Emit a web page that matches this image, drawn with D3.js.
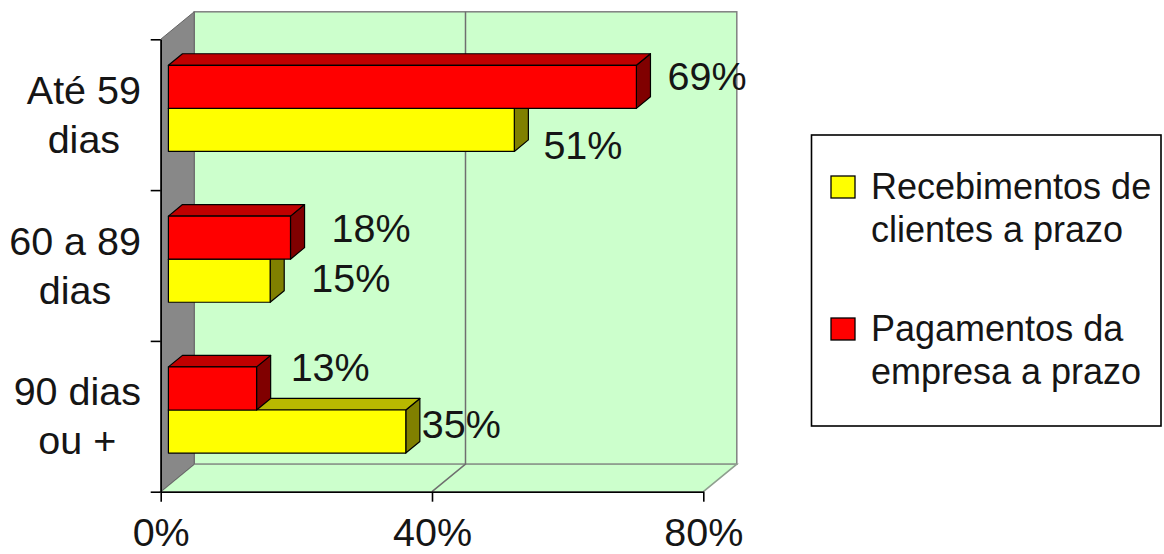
<!DOCTYPE html>
<html>
<head>
<meta charset="utf-8">
<script src="https://cdn.jsdelivr.net/npm/d3@7"></script>
<style>
  body { margin: 0; background: #fff; }
  svg { display: block; }
  text { font-family: "Liberation Sans", Arial, sans-serif; fill: #151515; }
</style>
</head>
<body>
<svg id="chart" width="1164" height="554"></svg>
<script>
// ---- data ----
const categories = ["Até 59 dias", "60 a 89 dias", "90 dias ou +"];
const categoryLines = [["Até 59", "dias"], ["60 a 89", "dias"], ["90 dias", "ou +"]];
const seriesKeys = ["pagamentos", "recebimentos"];          // top bar first within each group
const legendOrder = ["recebimentos", "pagamentos"];
const seriesLabels = {
  recebimentos: ["Recebimentos de", "clientes a prazo"],
  pagamentos: ["Pagamentos da", "empresa a prazo"]
};
const recebimentos = [51, 15, 35];   // % of firms
const pagamentos = [69, 18, 13];
const xTicks = [0, 40, 80];

// ---- styling / layout ----
const seriesValues = { recebimentos, pagamentos };
const colors = {
  recebimentos: { front: "#FFFF00", top: "#B8B800", side: "#808000" },
  pagamentos:   { front: "#FF0000", top: "#C00000", side: "#800000" }
};
// small hand adjustments of value-label placement [dx, dy]
const labelNudge = {
  recebimentos: [[-3, 25], [9, 8], [-16, 3]],
  pagamentos:   [[-1, 0], [9, 1], [2, -11]]
};

const FS = 39.5;
const svg = d3.select("#chart");

const x = d3.scaleLinear().domain([0, 80]).range([160.7, 703.3]);
const y = d3.scaleBand().domain(categories).range([39.3, 491.7]).padding(0);
const sub = d3.scaleBand().domain(seriesKeys).range([0, y.bandwidth()])
  .paddingInner(0).paddingOuter(0.75);
const yEdge = d3.scaleLinear().domain([0, categories.length]).range(y.range());

// 3D depth vector of the plot box and the slab occupied by the bars
const D = { x: 33.5, y: -27.5 };
const f0 = 0.23, f1 = 0.65;
const o0 = { x: D.x * f0, y: D.y * f0 };
const dd = { x: D.x * (f1 - f0), y: D.y * (f1 - f0) };

const [yTop, yBot] = y.range();
const [xL, xR] = x.range();

const pt = p => p.map(q => q.join(",")).join(" ");

// ---- walls and floor ----
const walls = svg.append("g");
// back wall
walls.append("rect")
  .attr("x", xL + D.x).attr("y", yTop + D.y)
  .attr("width", xR - xL).attr("height", yBot - yTop)
  .attr("fill", "#CCFFCC").attr("stroke", "#808080").attr("stroke-width", 1.5);
// floor
walls.append("polygon")
  .attr("points", pt([[xL, yBot], [xL + D.x, yBot + D.y], [xR + D.x, yBot + D.y], [xR, yBot]]))
  .attr("fill", "#CCFFCC").attr("stroke", "#8f9f8f").attr("stroke-width", 1.5);
// side wall
walls.append("polygon")
  .attr("points", pt([[xL, yTop], [xL + D.x, yTop + D.y], [xL + D.x, yBot + D.y], [xL, yBot]]))
  .attr("fill", "#888888").attr("stroke", "#666").attr("stroke-width", 1);

// gridlines (inner ticks only; the outer ones are wall edges)
xTicks.filter(t => t > 0 && t < 80).forEach(t => {
  walls.append("polyline")
    .attr("points", pt([[x(t) + D.x, yTop + D.y], [x(t) + D.x, yBot + D.y], [x(t), yBot]]))
    .attr("fill", "none").attr("stroke", "#6f6f6f").attr("stroke-width", 1.5);
});

// ---- bars ----
const bars = svg.append("g").attr("stroke", "#000").attr("stroke-width", 1.2)
  .attr("stroke-linejoin", "round");
const labels = svg.append("g");

categories.forEach((cat, ci) => {
  // lower bar first so the upper bar's faces sit over its top face
  ["recebimentos", "pagamentos"].forEach(key => {
    const v = seriesValues[key][ci];
    const c = colors[key];
    const x0 = x(0) + o0.x, x1 = x(v) + o0.x;
    const yt = y(cat) + sub(key) + o0.y, yb = yt + sub.bandwidth();

    bars.append("polygon")
      .attr("points", pt([[x1, yt], [x1 + dd.x, yt + dd.y], [x1 + dd.x, yb + dd.y], [x1, yb]]))
      .attr("fill", c.side);
    bars.append("polygon")
      .attr("points", pt([[x0, yt], [x1, yt], [x1 + dd.x, yt + dd.y], [x0 + dd.x, yt + dd.y]]))
      .attr("fill", c.top);
    bars.append("rect")
      .attr("x", x0).attr("y", yt).attr("width", x1 - x0).attr("height", yb - yt)
      .attr("fill", c.front);

    const nd = labelNudge[key][ci];
    const backEnd = x1 + dd.x;
    const backMid = (yt + yb) / 2 + dd.y;
    labels.append("text")
      .attr("x", backEnd + 18 + nd[0])
      .attr("y", backMid + 1 + FS * 0.358 + nd[1])
      .attr("font-size", FS)
      .text(v + "%");
  });
});

// ---- axes ----
const axX = svg.append("g").attr("transform", `translate(0,${yBot})`)
  .call(d3.axisBottom(x).tickValues(xTicks).tickFormat(d => d + "%")
    .tickSize(10).tickSizeOuter(0).tickPadding(16));
axX.selectAll("text").attr("font-size", FS).attr("font-family", null).style("fill", "#151515");

const axY = svg.append("g").attr("transform", `translate(${xL},0)`)
  .call(d3.axisLeft(yEdge).tickValues(d3.range(categories.length + 1)).tickFormat("")
    .tickSize(10).tickSizeOuter(0));

[axX, axY].forEach(a => {
  a.select(".domain").attr("stroke", "#000").attr("stroke-width", 1.6);
  a.selectAll(".tick line").attr("stroke", "#000").attr("stroke-width", 1.6);
});

// category labels: two centred lines, block right-aligned beside the axis
const catG = svg.append("g");
categories.forEach((cat, ci) => {
  const mid = y(cat) + y.bandwidth() / 2;
  const g = catG.append("g");
  const ts = categoryLines[ci].map((line, li) =>
    g.append("text").attr("font-size", FS).attr("text-anchor", "middle")
      .attr("y", mid + (li === 0 ? -11 : 38)).text(line));
  const w = d3.max(ts, t => t.node().getComputedTextLength());
  ts.forEach(t => t.attr("x", 141 - w / 2));
});

// ---- legend ----
const lg = svg.append("g");
lg.append("rect").attr("x", 811.5).attr("y", 135).attr("width", 349.5).attr("height", 291)
  .attr("fill", "#fff").attr("stroke", "#000").attr("stroke-width", 1.6);
legendOrder.forEach((key, i) => {
  const base = 199 + i * 142;
  lg.append("rect").attr("x", 831).attr("y", base - 23).attr("width", 24).attr("height", 22)
    .attr("fill", colors[key].front).attr("stroke", "#000").attr("stroke-width", 1.3);
  seriesLabels[key].forEach((line, li) => {
    lg.append("text").attr("x", 871).attr("y", base + li * 43)
      .attr("font-size", 36).text(line);
  });
});
</script>
</body>
</html>
